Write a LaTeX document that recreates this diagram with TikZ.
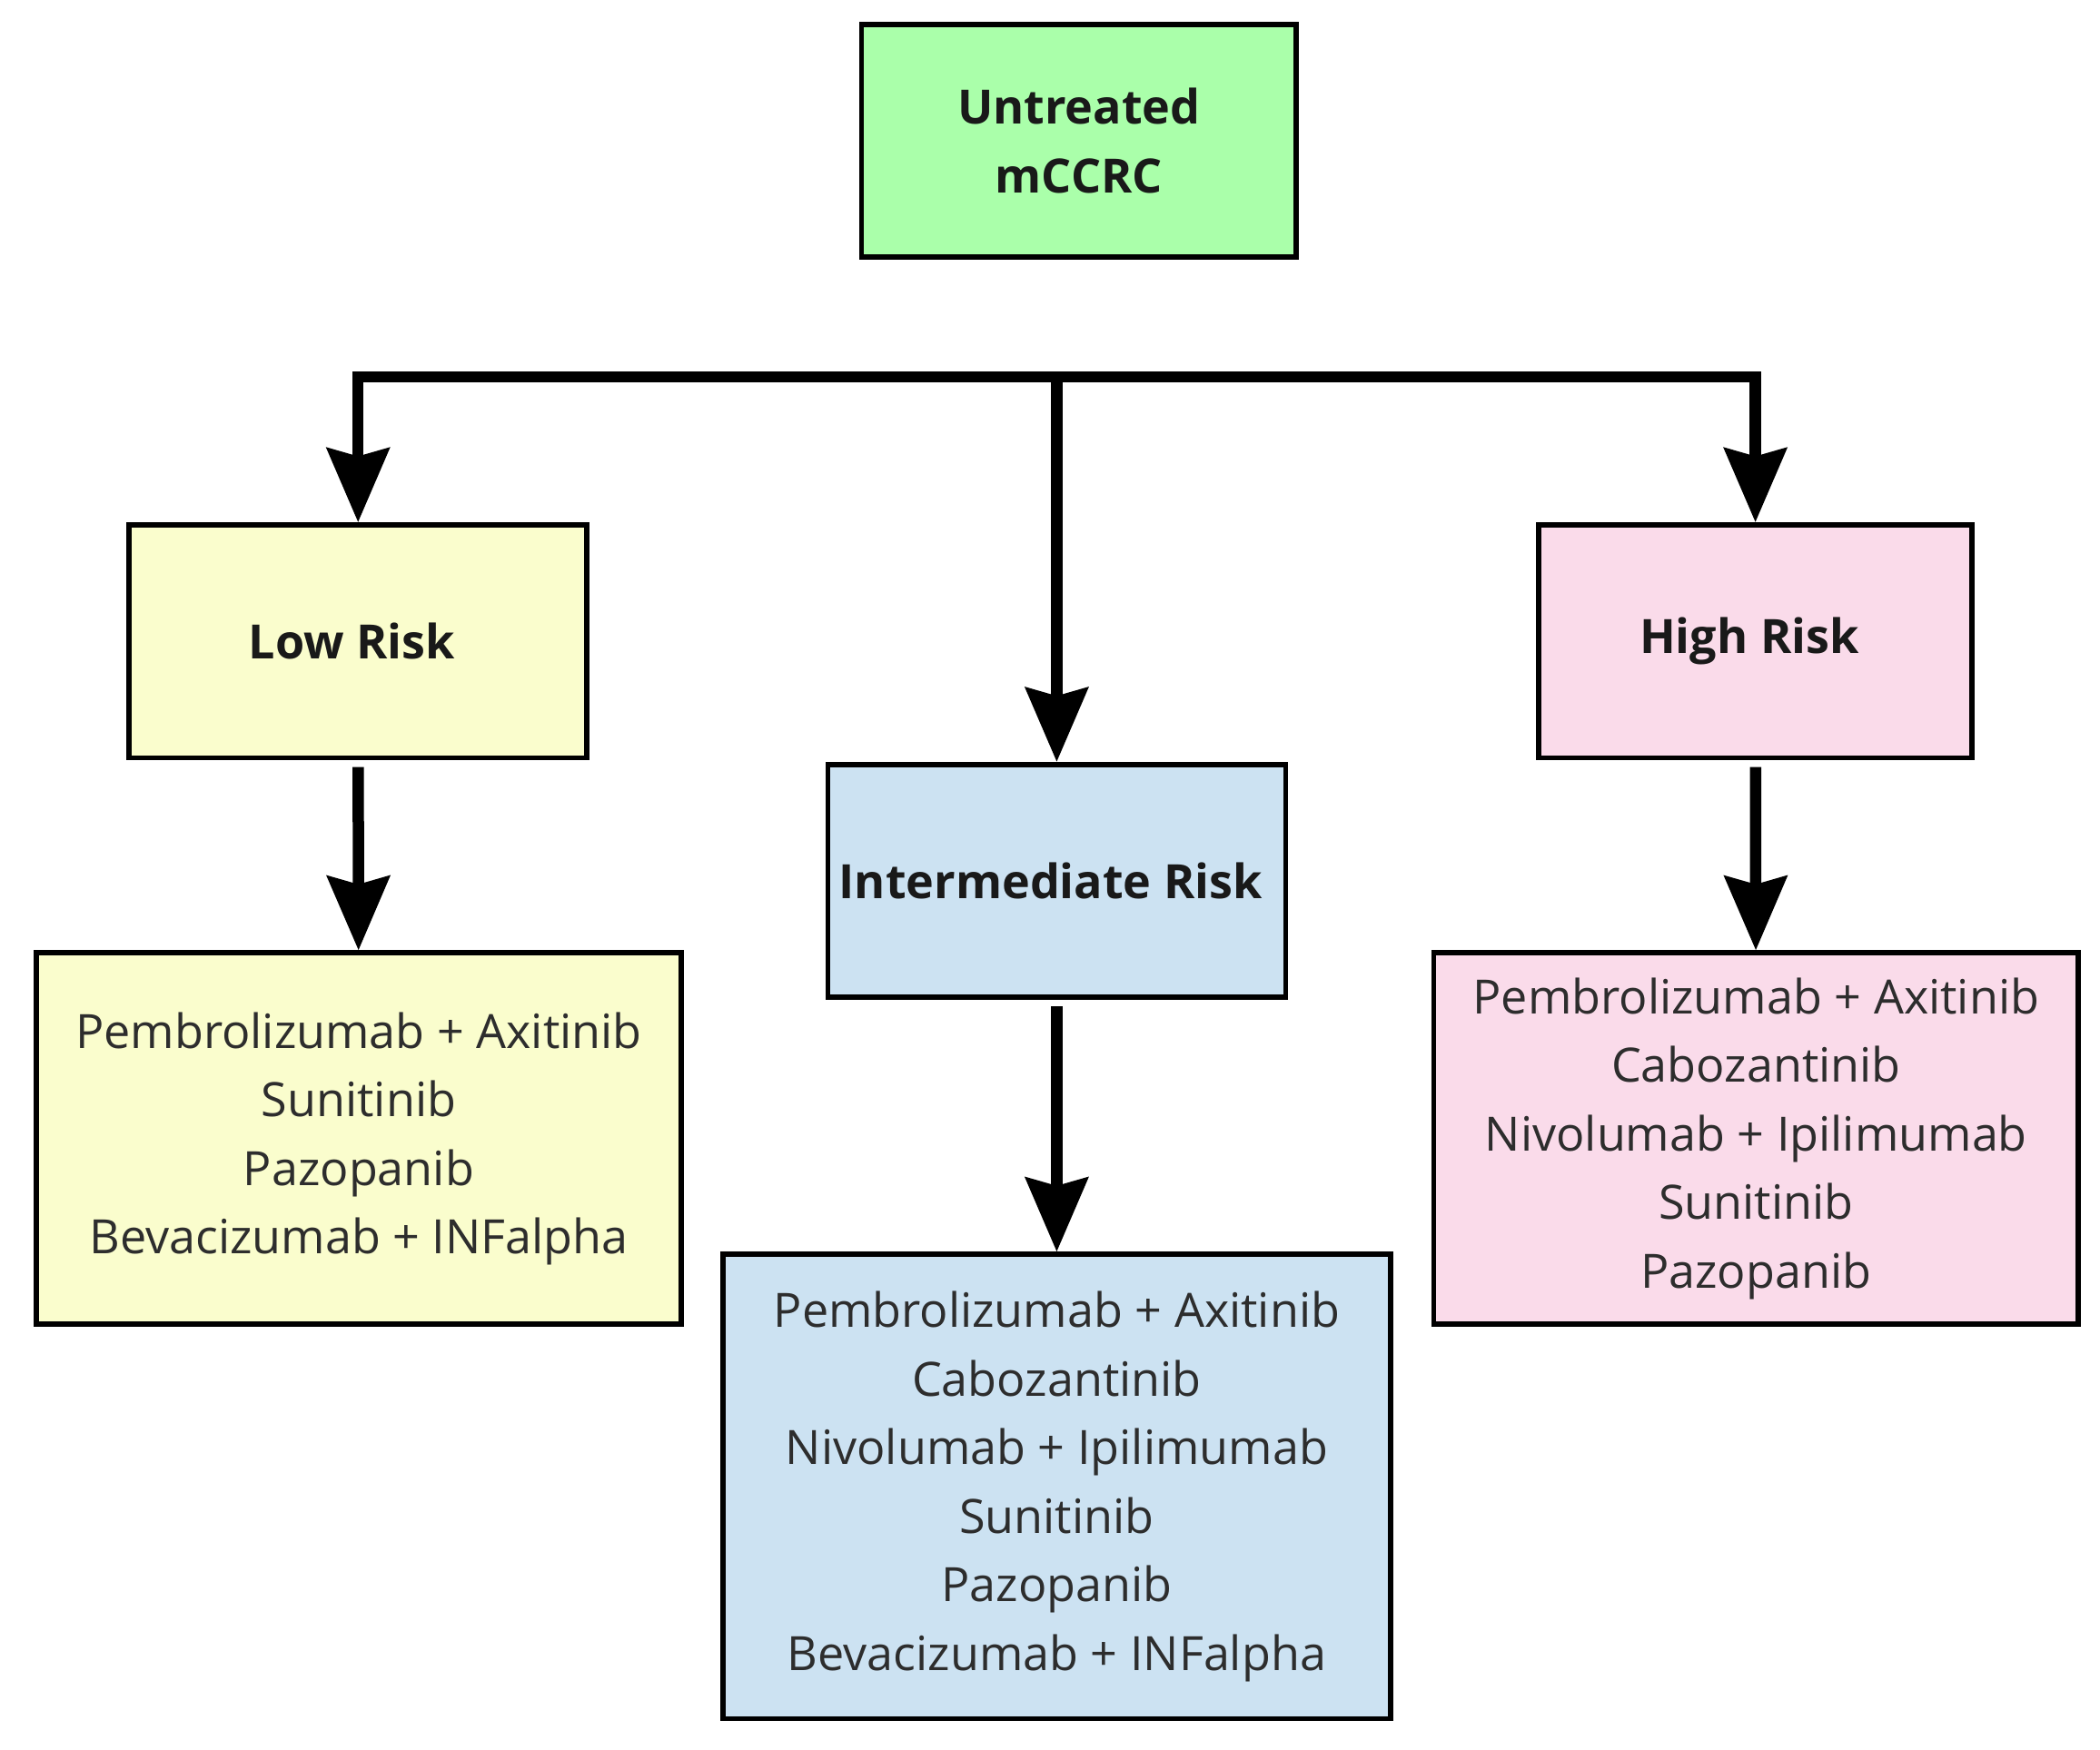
\documentclass[tikz,border=0pt]{standalone}
\usepackage{fontspec}
\setmainfont{Open Sans}
\usetikzlibrary{arrows.meta}
\definecolor{mint_green}		{RGB}{170,255,170}
\definecolor{pale_yellow}		{RGB}{250,253,205}
\definecolor{pale_blue}			{RGB}{204,226,242}
\definecolor{pale_pink}			{RGB}{250,219,234}
\definecolor{text_gray}			{RGB}{45,45,45}

\begin{document}
\begin{tikzpicture}[
		x               = 0.1mm,
		y               = -0.1mm,
		block/.style    = {draw = black,
			rectangle,
			align          = center,
			line width     = 1.1pt,
			inner sep      = 0pt},
		title/.style    = {block,
			font = \fontsize{10pt}{14.5pt}\selectfont\bfseries\color{black!90},
			minimum height = 17.3mm},
		drugs/.style    = {block,
			font = \fontsize{10pt}{14.5pt}\selectfont\color{text_gray}},
		blockG/.style   = {title, fill = mint_green,  minimum width = 32.3mm},
		blockY/.style   = {fill = pale_yellow},
		blockB/.style   = {fill = pale_blue},
		blockP/.style   = {fill = pale_pink},
		arrowB/.style   = {line width = 2.4pt,
			line join      = miter,
			-{Stealth[length=5.5mm, width=4.6mm, inset=0.6mm]}}]
		
		\useasboundingbox (0,0) rectangle (1560,1300);
		
		\node[blockG] (Start) at (801.5,104.5)
		{ Untreated \\ mCCRC };
		
		\node[title, blockY, minimum width = 34.0mm] (Low)   at (266,476.5)  { Low Risk };
		\node[title, blockB, minimum width = 34.0mm] (Inter) at (785,654.5)  { Intermediate Risk };
		\node[title, blockP, minimum width = 32.2mm] (High)  at (1304,476.5) { High Risk };
		
		\node[drugs, blockY, minimum width = 47.9mm, minimum height = 27.6mm] (LowDrugs) at (266.5,846)
		{ Pembrolizumab + Axitinib \\
			Sunitinib \\
			Pazopanib \\
			Bevacizumab + INFalpha };
		
		\node[drugs, blockB, minimum width = 49.6mm, minimum height = 34.5mm] (InterDrugs) at (785,1104.5)
		{ Pembrolizumab + Axitinib \\
			Cabozantinib \\
			Nivolumab + Ipilimumab \\
			Sunitinib \\
			Pazopanib \\
			Bevacizumab + INFalpha };
		
		\node[drugs, blockP, minimum width = 47.9mm, minimum height = 27.6mm] (HighDrugs) at (1304.5,846)
		{ Pembrolizumab + Axitinib \\
			Cabozantinib \\
			Nivolumab + Ipilimumab \\
			Sunitinib \\
			Pazopanib };
		
		\coordinate (br) at (785,280); % branching point
		
		\draw[arrowB] (br) -| (Low.north);
		\draw[arrowB] (br) -| (High.north);
		\draw[arrowB] (br) -- (Inter.north);
		
		\path[arrowB, shorten <=0.5mm] (Low)   edge (LowDrugs)
		                               (Inter) edge (InterDrugs)
		                               (High)  edge (HighDrugs);
		
	\end{tikzpicture}
\end{document}
